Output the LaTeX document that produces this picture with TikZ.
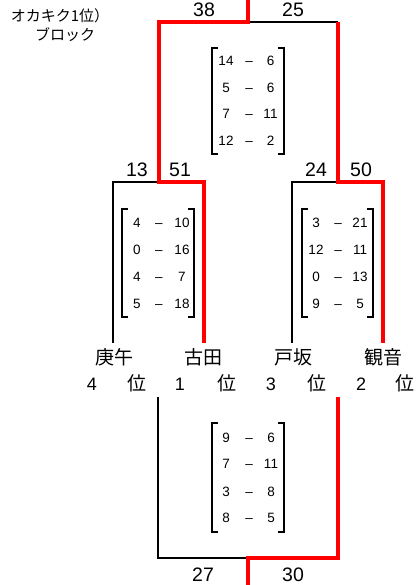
\documentclass[tikz,border=0pt]{standalone}
\usepackage{fontspec}
\setmainfont{Liberation Sans}
\newfontfamily\jp{Noto Sans CJK JP}
\begin{document}
\begin{tikzpicture}[x=1pt,y=-1pt,
  blk/.style={line width=2pt,black},
  redl/.style={line width=4pt,red},
  score/.style={font=\fontsize{19.5}{19.5}\selectfont,inner sep=0pt,anchor=base},
  mnum/.style={font=\fontsize{13.5}{13.5}\selectfont,inner sep=0pt,anchor=base},
  tname/.style={font=\jp\fontsize{19}{19}\selectfont,inner sep=0pt},
  rank/.style={font=\fontsize{18}{18}\selectfont,inner sep=0pt,anchor=base},
  rankj/.style={font=\jp\fontsize{19}{19}\selectfont,inner sep=0pt},
  head/.style={font=\jp\fontsize{15}{15}\selectfont,inner sep=0pt},
  brk/.style={line width=1.8pt,black}]
\useasboundingbox (0,0) rectangle (419,585);
% coordinates
\coordinate (t0) at (248,0);
\coordinate (tj) at (248,22);
\coordinate (tl) at (159,22);
\coordinate (tr) at (338,22);
\coordinate (lj) at (159,182);
\coordinate (ll) at (113,182);
\coordinate (lr) at (204,182);
\coordinate (lla) at (113,343);
\coordinate (lra) at (204,343);
\coordinate (rj) at (338,182);
\coordinate (rl) at (292,182);
\coordinate (rr) at (383,182);
\coordinate (rla) at (292,343);
\coordinate (rra) at (383,343);
\coordinate (bl) at (158,397);
\coordinate (bl2) at (158,558);
\coordinate (bj) at (248,558);
\coordinate (br2) at (338,558);
\coordinate (br) at (338,397);
\coordinate (bend) at (248,585);
% black lines
\draw[blk] (tj) -- (tr);
\draw[blk] (lj) -- (ll) -- (lla);
\draw[blk] (rj) -- (rl) -- (rla);
\draw[blk] (bl) -- (bl2) -- (bj);
% red lines
\draw[redl] (t0) -- (tj) -- (tl) -- (lj) -- (lr) -- (lra);
\draw[redl] (tr) -- (rj) -- (rr) -- (rra);
\draw[redl] (bend) -- (bj) -- (br2) -- (br);
% scores
\node[score] (s38) at (204,17) {38};
\node[score] (s25) at (293,17) {25};
\node[score] (s13) at (137,177) {13};
\node[score] (s51) at (180,177) {51};
\node[score] (s24) at (316,177) {24};
\node[score] (s50) at (361,177) {50};
\node[score] (s27) at (203,581) {27};
\node[score] (s30) at (293,581) {30};
% header
\node[head] (h1) at (60,16) {オカキク1位）};
\node[head] (h2) at (65,35) {ブロック};
% team names
\node[tname] (n1) at (114,357) {庚午};
\node[tname] (n2) at (203,357) {古田};
\node[tname] (n3) at (293,357) {戸坂};
\node[tname] (n4) at (383,357) {観音};
% ranks
\node[rank] (r4) at (92,390) {4};
\node[rankj] (p4) at (137,383) {位};
\node[rank] (r1) at (180,390) {1};
\node[rankj] (p1) at (227,383) {位};
\node[rank] (r3) at (271,390) {3};
\node[rankj] (p3) at (317,383) {位};
\node[rank] (r2) at (361,390) {2};
\node[rankj] (p2) at (405,383) {位};
% matrices: macro-free, explicit
% top matrix
\draw[brk] (218,48) -- (212,48) -- (212,154) -- (218,154);
\draw[brk] (278,48) -- (284,48) -- (284,154) -- (278,154);
\foreach \y/\a/\b [count=\i] in {66/14/6, 92.5/5/6, 119/7/11, 146/12/2} {
  \node[mnum] (ta\i) at (226,\y) {\a};
  \node[mnum] (td\i) at (249,\y) {–};
  \node[mnum] (tb\i) at (270.5,\y) {\b};
}
% left matrix
\draw[brk] (128,209) -- (122,209) -- (122,317) -- (128,317);
\draw[brk] (188,209) -- (194,209) -- (194,317) -- (188,317);
\foreach \y/\a/\b [count=\i] in {227/4/10, 254/0/16, 281/4/7, 308/5/18} {
  \node[mnum] (la\i) at (137,\y) {\a};
  \node[mnum] (ld\i) at (159,\y) {–};
  \node[mnum] (lb\i) at (182,\y) {\b};
}
% right matrix
\draw[brk] (308,209) -- (302,209) -- (302,317) -- (308,317);
\draw[brk] (367,209) -- (373,209) -- (373,317) -- (367,317);
\foreach \y/\a/\b [count=\i] in {227/3/21, 254/12/11, 281/0/13, 308/9/5} {
  \node[mnum] (ra\i) at (316,\y) {\a};
  \node[mnum] (rd\i) at (338,\y) {–};
  \node[mnum] (rb\i) at (360,\y) {\b};
}
% bottom matrix
\draw[brk] (218,423) -- (212,423) -- (212,532) -- (218,532);
\draw[brk] (278,423) -- (284,423) -- (284,532) -- (278,532);
\foreach \y/\a/\b [count=\i] in {442/9/6, 468/7/11, 496/3/8, 522/8/5} {
  \node[mnum] (ba\i) at (226,\y) {\a};
  \node[mnum] (bd\i) at (249,\y) {–};
  \node[mnum] (bb\i) at (271,\y) {\b};
}
\end{tikzpicture}
\end{document}
